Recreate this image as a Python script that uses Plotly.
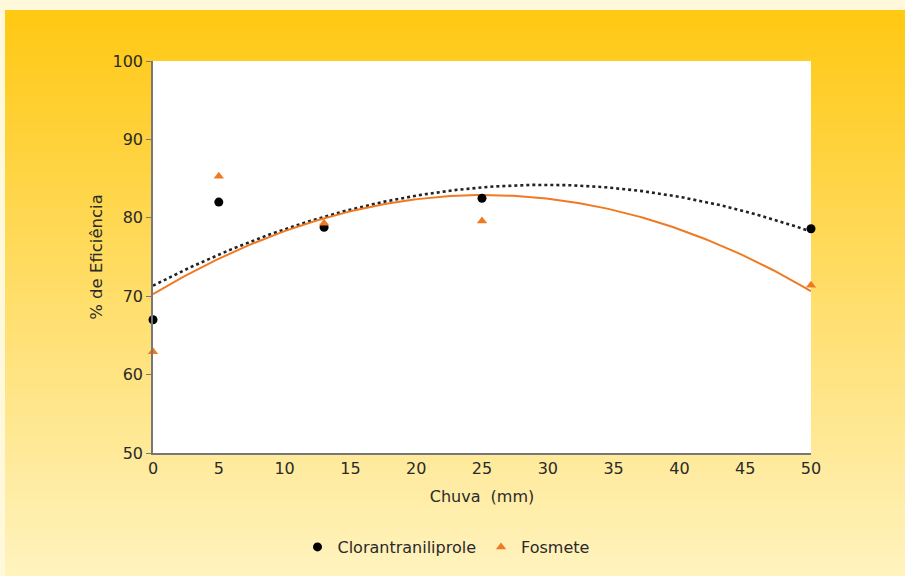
import numpy as np
import plotly.graph_objects as go

chuva = [0, 5, 13, 25, 50]
cloran = [67.0, 82.0, 78.8, 82.5, 78.6]
fosmete = [62.9, 85.3, 79.3, 79.6, 71.4]
x_ticks = list(range(0, 51, 5))
y_ticks = list(range(50, 101, 10))

W, H = 905, 576
L, R, T, B = 153, 811, 61, 453
pw, ph = R - L, B - T

def px2x(px):
    return (px - L) / pw

def py2y(py):
    return (B - py) / ph

FONT = "DejaVu Sans, Arial, sans-serif"
TXT = "#2a2a2a"

fig = go.Figure()

xs = np.linspace(0, 50, 200)
c_fit = np.polyval(np.polyfit(chuva, cloran, 2), xs)
f_fit = np.polyval(np.polyfit(chuva, fosmete, 2), xs)

fig.add_trace(go.Scatter(x=xs, y=c_fit, mode="lines", showlegend=False,
                         line=dict(color="#222222", width=2.6, dash="dot"), hoverinfo="skip"))
fig.add_trace(go.Scatter(x=xs, y=f_fit, mode="lines", showlegend=False,
                         line=dict(color="#F07A22", width=2), hoverinfo="skip"))
fig.add_trace(go.Scatter(x=chuva, y=cloran, mode="markers", name="Clorantraniliprole",
                         marker=dict(symbol="circle", size=9, color="#000000"), cliponaxis=False))
fig.add_trace(go.Scatter(x=chuva, y=fosmete, mode="markers", name="Fosmete",
                         marker=dict(symbol="triangle-up", size=9, color="#F07A22"), cliponaxis=False))

shapes = []
top, bot = 10, H
c0 = np.array([255, 201, 20])
c1 = np.array([255, 243, 190])
n = 60
for i in range(n):
    y0p = top + (bot - top) * i / n
    y1p = top + (bot - top) * (i + 1) / n + 1
    t = i / (n - 1)
    c = (c0 + (c1 - c0) * t).astype(int)
    shapes.append(dict(type="rect", xref="paper", yref="paper", layer="below",
                       x0=px2x(5), x1=px2x(W + 5), y0=py2y(y1p), y1=py2y(y0p),
                       line=dict(width=0), fillcolor=f"rgb({c[0]},{c[1]},{c[2]})"))
shapes.append(dict(type="rect", xref="paper", yref="paper", layer="below",
                   x0=0, x1=1, y0=0, y1=1, line=dict(width=0), fillcolor="white"))

fig.update_layout(
    width=W, height=H,
    margin=dict(l=L, r=W - R, t=T, b=H - B),
    paper_bgcolor="#FFF8DA",
    plot_bgcolor="white",
    shapes=shapes,
    font=dict(family=FONT, size=16, color=TXT),
    xaxis=dict(range=[0, 50], tickvals=x_ticks, showgrid=False, zeroline=False,
               showline=True, linecolor="#777777", linewidth=1.5, ticks="",
               ticklen=0, tickfont=dict(size=16, color=TXT),
               title=dict(text="Chuva  (mm)", standoff=14,
                          font=dict(size=16, color=TXT))),
    yaxis=dict(range=[50, 100], tickvals=y_ticks, showgrid=False, zeroline=False,
               showline=True, linecolor="#777777", linewidth=1.5, ticks="outside",
               ticklen=5, tickcolor="#777777", tickfont=dict(size=16, color=TXT),
               title=dict(text="% de Eficiência", standoff=6,
                          font=dict(size=16.5, color=TXT))),
    legend=dict(orientation="h", x=px2x(446), xanchor="center", y=py2y(547), yanchor="middle",
                bgcolor="rgba(0,0,0,0)", font=dict(size=16, color=TXT),
                itemwidth=30, tracegroupgap=0),
)

fig.write_html("out.html", config={"displayModeBar": False},
               post_script="document.body.style.margin='0';")
